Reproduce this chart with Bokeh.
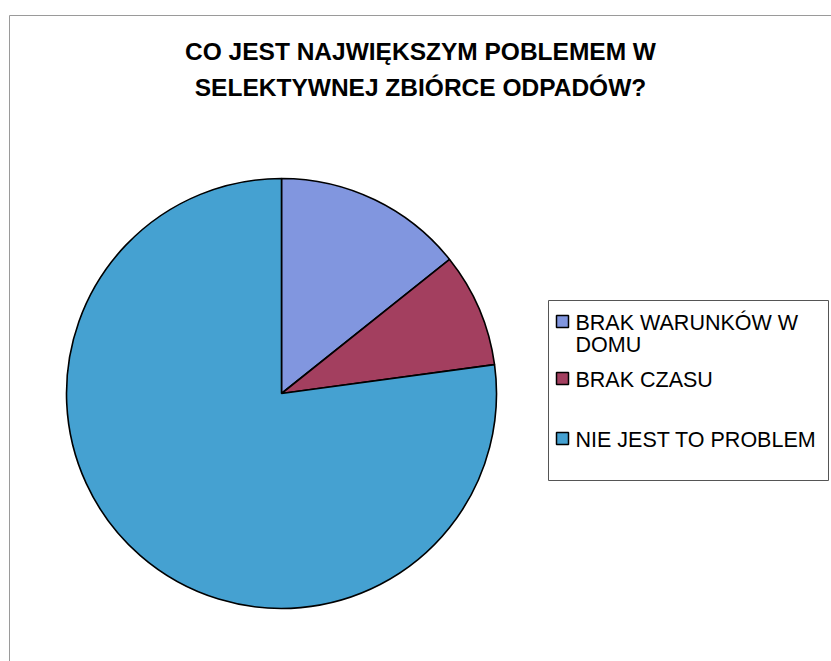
import numpy as np
from bokeh.plotting import figure
from bokeh.models import Range1d, ColumnDataSource
from bokeh.core.properties import value
from bokeh.embed import file_html
from bokeh.resources import INLINE

# ---- data ----
title_lines = ["CO JEST NAJWIĘKSZYM POBLEMEM W", "SELEKTYWNEJ ZBIÓRCE ODPADÓW?"]
categories = ["BRAK WARUNKÓW W DOMU", "BRAK CZASU", "NIE JEST TO PROBLEM"]
legend_labels = ["BRAK WARUNKÓW W\nDOMU", "BRAK CZASU", "NIE JEST TO PROBLEM"]
counts = [5, 3, 27]
colors = ["#8196DF", "#A33F5F", "#45A1D1"]

W, H = 831, 661
PAGE_H = 661


def Y(py):
    return PAGE_H - py


p = figure(width=W, height=H, output_backend="svg", toolbar_location=None,
           x_range=Range1d(0, W), y_range=Range1d(PAGE_H - H, PAGE_H),
           min_border=0, outline_line_color=None, background_fill_color="white",
           border_fill_color="white")
p.axis.visible = False
p.grid.visible = False

# outer frame (scanned border)
p.line(x=[9, 831], y=[Y(15), Y(15)], line_color="#9a9a9a", line_width=1)
p.line(x=[9, 9], y=[Y(15), Y(661)], line_color="#9a9a9a", line_width=1)

# title
for i, t in enumerate(title_lines):
    p.text(x=[420], y=[Y(51 + 36 * i)], text=[t], text_font=value("Liberation Sans"),
           text_font_style="bold", text_font_size="24.5px", text_align="center",
           text_baseline="alphabetic", text_color="black")

# pie
vals = np.array(counts, dtype=float)
angles = vals / vals.sum() * 2 * np.pi
cum = np.concatenate([[0], np.cumsum(angles)])
start = np.pi / 2 - cum[:-1]
end = np.pi / 2 - cum[1:]
src = ColumnDataSource(dict(start=start, end=end, color=colors, cat=categories))
p.wedge(x=281, y=Y(393), radius=215, start_angle="start", end_angle="end",
        direction="clock", fill_color="color", line_color="black", line_width=1.6,
        source=src)

# legend box
p.quad(left=[548], right=[828], top=[Y(300)], bottom=[Y(480)],
       fill_color="white", line_color="#555555", line_width=1)

base_rows = [328, 385, 445]
for lab, col, by in zip(legend_labels, colors, base_rows):
    p.rect(x=[562], y=[Y(by - 7)], width=12, height=12, fill_color=col,
           line_color="black", line_width=1.5)
    for j, line in enumerate(lab.split("\n")):
        p.text(x=[575], y=[Y(by - 6 + 22.5 * j)], text=[line],
               text_font=value("Liberation Sans"), text_font_size="21.5px",
               text_align="left", text_baseline="alphabetic", text_color="black")

open("out.html", "w").write(file_html(p, INLINE))
